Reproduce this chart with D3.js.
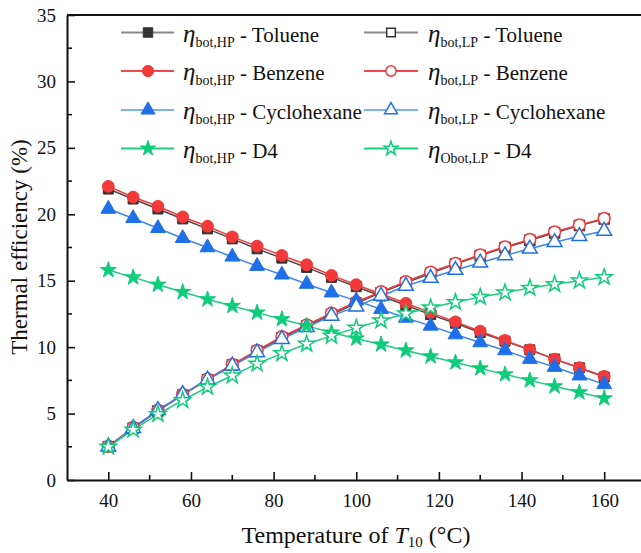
<!DOCTYPE html>
<html><head><meta charset="utf-8">
<script src="https://cdn.jsdelivr.net/npm/d3@7"></script>
<style>body{margin:0;background:#fff}svg{display:block}text{font-family:"Liberation Serif","Times New Roman",serif;fill:#111}</style>
</head><body><svg id="c" width="641" height="553"></svg>
<script>
const temps = [40,46,52,58,64,70,76,82,88,94,100,106,112,118,124,130,136,142,148,154,160];
const xTicks = [40,60,80,100,120,140,160];
const yTicks = [0,5,10,15,20,25,30,35];
const tolueneHP = [21.9,21.15,20.4,19.65,18.9,18.15,17.4,16.7,16.0,15.25,14.55,13.85,13.15,12.45,11.8,11.1,10.45,9.8,9.1,8.45,7.75];
const benzeneHP = [22.1,21.3,20.6,19.8,19.1,18.3,17.6,16.9,16.2,15.4,14.7,14.0,13.3,12.6,11.9,11.2,10.5,9.8,9.1,8.45,7.8];
const cyclohexaneHP = [20.4,19.7,18.95,18.2,17.5,16.8,16.1,15.45,14.75,14.1,13.5,12.85,12.2,11.6,10.95,10.35,9.75,9.1,8.5,7.85,7.2];
const d4HP = [15.8,15.25,14.7,14.15,13.6,13.1,12.6,12.1,11.6,11.1,10.65,10.2,9.75,9.3,8.85,8.4,7.95,7.5,7.05,6.6,6.15];
const tolueneLP = [2.5,3.9,5.2,6.4,7.55,8.65,9.7,10.7,11.6,12.45,13.3,14.1,14.85,15.55,16.25,16.9,17.5,18.05,18.6,19.15,19.65];
const benzeneLP = [2.55,3.95,5.25,6.45,7.6,8.7,9.75,10.78,11.67,12.55,13.4,14.17,14.93,15.65,16.3,16.95,17.55,18.1,18.68,19.2,19.68];
const cyclohexaneLP = [2.5,3.9,5.25,6.45,7.55,8.6,9.6,10.6,11.5,12.35,13.05,13.85,14.6,15.2,15.8,16.35,16.9,17.4,17.9,18.35,18.75];
const d4LP = [2.5,3.78,4.95,6.0,7.0,7.85,8.75,9.53,10.24,10.85,11.45,12.0,12.52,12.98,13.38,13.77,14.1,14.45,14.73,15.0,15.26];

const series = [
  {sub:"bot,HP", name:"Toluene", vals:tolueneHP, shape:"square", filled:true, line:"#4a4a4a", mk:"#333333", leg:"#8a8a8a", col:0, row:0},
  {sub:"bot,LP", name:"Toluene", vals:tolueneLP, shape:"square", filled:false, line:"#4a4a4a", mk:"#333333", leg:"#8a8a8a", col:1, row:0},
  {sub:"bot,HP", name:"Benzene", vals:benzeneHP, shape:"circle", filled:true, line:"#ee3b3b", mk:"#f23a3a", leg:"#f04848", col:0, row:1},
  {sub:"bot,LP", name:"Benzene", vals:benzeneLP, shape:"circle", filled:false, line:"#ee3b3b", mk:"#f23a3a", leg:"#f04848", col:1, row:1},
  {sub:"bot,HP", name:"Cyclohexane", vals:cyclohexaneHP, shape:"triangle", filled:true, line:"#3d87ee", mk:"#1f6fe8", leg:"#7aaef5", col:0, row:2},
  {sub:"bot,LP", name:"Cyclohexane", vals:cyclohexaneLP, shape:"triangle", filled:false, line:"#3d87ee", mk:"#1f6fe8", leg:"#7aaef5", col:1, row:2},
  {sub:"bot,HP", name:"D4", vals:d4HP, shape:"star", filled:true, line:"#1ccc84", mk:"#0fcc7a", leg:"#1ccc84", col:0, row:3},
  {sub:"Obot,LP", name:"D4", vals:d4LP, shape:"star", filled:false, line:"#1ccc84", mk:"#0fcc7a", leg:"#1ccc84", col:1, row:3}
];

const FONT = "Liberation Serif, Times New Roman, serif";
const svg = d3.select("#c");
const x = d3.scaleLinear().domain([30,170]).range([67,645.5]);
const y = d3.scaleLinear().domain([0,35]).range([480,15]);

const symType = {square:d3.symbolSquare, circle:d3.symbolCircle, triangle:d3.symbolTriangle, star:d3.symbolStar};
const symSize = {square:100, circle:110, triangle:95, star:80};
function sym(s){ return d3.symbol().type(symType[s.shape]).size(symSize[s.shape])(); }

const plot = svg.append("g");
svg.append("line").attr("x1",x(30)).attr("x2",x(170)).attr("y1",y(35)).attr("y2",y(35)).attr("stroke","#111").attr("stroke-width",2);
svg.append("line").attr("x1",x(170)).attr("x2",x(170)).attr("y1",y(35)).attr("y2",y(0)).attr("stroke","#111").attr("stroke-width",2);

const xAxis = d3.axisBottom(x).tickValues(xTicks).tickSizeInner(-8).tickSizeOuter(0).tickFormat(d3.format("d"));
const gx = svg.append("g").attr("transform",`translate(0,${y(0)})`).call(xAxis).attr("font-family",FONT);
gx.select(".domain").attr("stroke","#111").attr("stroke-width",2);
gx.selectAll(".tick line").attr("stroke","#111").attr("stroke-width",1.6);
gx.selectAll(".tick text").attr("font-size",19).attr("dy",0).attr("y",27).attr("fill","#111");
const xMinor = d3.range(50,170,20);
gx.selectAll(".minor").data(xMinor).join("line").attr("x1",d=>x(d)).attr("x2",d=>x(d)).attr("y1",0).attr("y2",-5).attr("stroke","#111").attr("stroke-width",1.6);

const yAxis = d3.axisLeft(y).tickValues(yTicks).tickSizeInner(-8).tickSizeOuter(0).tickFormat(d3.format("d"));
const gy = svg.append("g").attr("transform",`translate(${x(30)},0)`).call(yAxis).attr("font-family",FONT);
gy.select(".domain").attr("stroke","#111").attr("stroke-width",2);
gy.selectAll(".tick line").attr("stroke","#111").attr("stroke-width",1.6);
gy.selectAll(".tick text").attr("font-size",19).attr("x",-11).attr("fill","#111");
const yMinor = d3.range(2.5,35,5);
gy.selectAll(".minor").data(yMinor).join("line").attr("x1",0).attr("x2",5).attr("y1",d=>y(d)).attr("y2",d=>y(d)).attr("stroke","#111").attr("stroke-width",1.6);

const lineGen = d3.line().x((d,i)=>x(temps[i])).y(d=>y(d));
series.forEach(s=>{
  plot.append("path").attr("d",lineGen(s.vals)).attr("fill","none").attr("stroke",s.line).attr("stroke-width",1.5);
});
series.forEach(s=>{
  plot.selectAll(null).data(s.vals).join("path")
    .attr("d",sym(s))
    .attr("transform",(d,i)=>`translate(${x(temps[i])},${y(d)})`)
    .attr("fill",s.filled? s.mk : "#fff")
    .attr("stroke",s.mk).attr("stroke-width",s.filled?1:1.5);
});

const legX = [[121,174,148,183],[364,418,391,428]];
const legY = [32.5,71,110,148.5];
series.forEach(s=>{
  const [x1,x2,mx,tx] = legX[s.col];
  const ly = legY[s.row];
  const g = svg.append("g");
  g.append("line").attr("x1",x1).attr("x2",x2).attr("y1",ly).attr("y2",ly).attr("stroke",s.leg).attr("stroke-width",2);
  g.append("path").attr("d",d3.symbol().type(symType[s.shape]).size(s.filled?symSize[s.shape]*0.9:symSize[s.shape]*0.75)())
    .attr("transform",`translate(${mx},${ly})`)
    .attr("fill",s.filled? s.mk : "#fff").attr("stroke",s.mk).attr("stroke-width",s.filled?1:1.5);
  const t = g.append("text").attr("x",tx).attr("y",ly+9).attr("font-size",21).attr("font-family",FONT);
  t.append("tspan").attr("font-style","italic").attr("font-size",25).text("η");
  t.append("tspan").attr("font-size",14).attr("dy",5).text(s.sub);
  t.append("tspan").attr("dy",-5).text(" - " + s.name);
});

const xt = svg.append("text").attr("x",356).attr("y",543).attr("text-anchor","middle").attr("font-size",24).attr("font-family",FONT);
xt.append("tspan").text("Temperature of ");
xt.append("tspan").attr("font-style","italic").text("T");
xt.append("tspan").attr("font-size",15).attr("dy",4).text("10");
xt.append("tspan").attr("dy",-4).text(" (°C)");

svg.append("text").attr("transform","translate(27,247) rotate(-90)").attr("text-anchor","middle").attr("font-size",23).attr("font-family",FONT).text("Thermal efficiency (%)");
</script></body></html>
